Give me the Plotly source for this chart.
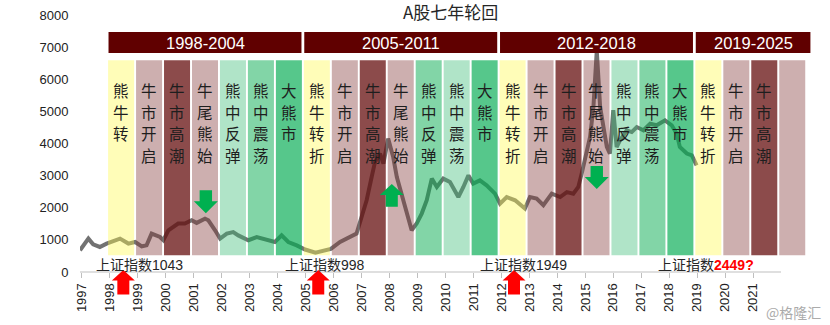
import plotly.graph_objects as go

# ---------------- data ----------------
line_years = [1996.93, 1997.23, 1997.40, 1997.64, 1997.88, 1998.36, 1998.66, 1998.90, 1999.14, 1999.31,
              1999.49, 1999.79, 1999.91, 2000.09, 2000.44, 2000.68, 2000.92, 2001.10, 2001.40, 2001.52,
              2001.76, 2001.94, 2002.18, 2002.41, 2002.59, 2002.95, 2003.25, 2003.55, 2003.90, 2004.14,
              2004.38, 2004.68, 2004.98, 2005.35, 2005.63, 2005.90, 2006.23, 2006.59, 2006.82, 2007.00,
              2007.18, 2007.36, 2007.48, 2007.66, 2007.78, 2007.95, 2008.13, 2008.26, 2008.43, 2008.55,
              2008.79, 2008.97, 2009.15, 2009.33, 2009.51, 2009.69, 2009.92, 2010.16, 2010.46, 2010.64,
              2010.82, 2010.99, 2011.23, 2011.47, 2011.77, 2011.95, 2012.19, 2012.49, 2012.84, 2013.02,
              2013.26, 2013.50, 2013.80, 2014.10, 2014.34, 2014.57, 2014.75, 2014.87, 2015.05, 2015.17,
              2015.29, 2015.41, 2015.53, 2015.65, 2015.77, 2015.88, 2016.00, 2016.12, 2016.24, 2016.48,
              2016.66, 2016.84, 2017.08, 2017.32, 2017.55, 2017.85, 2018.09, 2018.27, 2018.38, 2018.63,
              2018.81, 2018.98]
line_values = [676, 1040, 860, 780, 885, 1040, 885, 935, 800, 830,
               1195, 1090, 990, 1300, 1510, 1510, 1610, 1530, 1660, 1610,
               1300, 1040, 1195, 1245, 1140, 990, 1090, 1010, 935, 1140,
               935, 830, 700, 600, 660, 720, 935, 1090, 1195, 1715,
               2235, 2960, 3430, 3690, 3380, 4155, 3580, 2960, 2440, 2025,
               1300, 1510, 1820, 2235, 2910, 2650, 2910, 2805, 2335, 2650,
               3010, 2755, 2855, 2700, 2440, 2130, 2335, 2235, 1975, 2335,
               2285, 2080, 2440, 2335, 2490, 2440, 2650, 3065, 3690, 4205,
               5140, 6900, 5140, 4515, 3895, 3690, 5040, 3895, 4100, 4415,
               4360, 4515, 4415, 4620, 4570, 4725, 4570, 4310, 3895, 3690,
               3635, 3325]

phase_labels = ["熊牛转", "牛市开启", "牛市高潮", "牛尾熊始", "熊中反弹", "熊中震荡", "大熊市",
                "熊牛转折", "牛市开启", "牛市高潮", "牛尾熊始", "熊中反弹", "熊中震荡", "大熊市",
                "熊牛转折", "牛市开启", "牛市高潮", "牛尾熊始", "熊中反弹", "熊中震荡", "大熊市",
                "熊牛转折", "牛市开启", "牛市高潮", ""]
phase_kinds = ["yellow", "pink", "dark", "pink", "light", "mid", "deep",
               "yellow", "pink", "dark", "pink", "mid", "light", "deep",
               "yellow", "pink", "dark", "pink", "light", "mid", "deep",
               "yellow", "pink", "dark", "pink"]

cycle_labels = ["1998-2004", "2005-2011", "2012-2018", "2019-2025"]
cycle_sizes = [7, 7, 7, 4]

tick_years = list(range(1997, 2022))
tick_labels = [str(y) for y in tick_years]

note_prefix = "上证指数"
note_numbers = ["1043", "998", "1949", "2449?"]
note_years = [1999.04, 2005.69, 2012.79, 2019.33]
note_highlight = [False, False, False, True]

up_red_years = [1998.48, 2005.45, 2012.45]
green_arrow_years = [2001.43, 2008.08, 2015.41]
green_arrow_values = [2545, 2741, 3302]
green_arrow_dirs = ["down", "up", "down"]

# ---------------- style ----------------
FONT = "Liberation Sans, Arial, Noto Sans CJK SC"
CJK = "Noto Sans CJK SC, Liberation Sans"
COL_START = 1997.9
COL_BOTTOM, COL_TOP = 520, 6600
HEAD_BOTTOM, HEAD_TOP = 6822, 7477
CHAR_TOP, CHAR_STEP = 5670, 676   # vertical text: first char centre, step per char

targets = {
    "yellow": ((255, 253, 184), 0.40),
    "pink": ((205, 175, 175), 0.40),
    "dark": ((140, 75, 75), 0.75),
    "light": ((176, 228, 200), 0.40),
    "mid": ((130, 213, 167), 0.50),
    "deep": ((86, 199, 139), 0.68),
}


def overlay_color(kind):
    (r, g, b), a = targets[kind]
    base = [max(0, min(255, round((c - (1 - a) * 255) / a))) for c in (r, g, b)]
    return f"rgba({base[0]},{base[1]},{base[2]},{a})"


fig = go.Figure()
fig.add_trace(go.Scatter(
    x=line_years, y=line_values, mode="lines",
    line=dict(color="#727272", width=4, shape="linear"),
    hoverinfo="skip", showlegend=False))

shapes = []
annotations = []

# phase columns
for i, (lab, kind) in enumerate(zip(phase_labels, phase_kinds)):
    x0 = COL_START + i + 0.035
    x1 = COL_START + i + 1 - 0.035
    shapes.append(dict(type="rect", xref="x", yref="y", x0=x0, x1=x1,
                       y0=COL_BOTTOM, y1=COL_TOP, fillcolor=overlay_color(kind),
                       line=dict(width=0), layer="above"))
    for j, ch in enumerate(lab):
        annotations.append(dict(x=(x0 + x1) / 2, y=CHAR_TOP - j * CHAR_STEP,
                                xref="x", yref="y", text=ch, showarrow=False,
                                xanchor="center", yanchor="middle", borderpad=0,
                                font=dict(family=CJK, size=15.5, color="#1e1e1e")))

# cycle headers
first = 0
for k, (lab, n) in enumerate(zip(cycle_labels, cycle_sizes)):
    x0 = COL_START + first + 0.05
    x1 = COL_START + first + n - 0.05 + (0.2 if k == len(cycle_labels) - 1 else 0)
    shapes.append(dict(type="rect", xref="x", yref="y", x0=x0, x1=x1,
                       y0=HEAD_BOTTOM, y1=HEAD_TOP, fillcolor="#600000",
                       line=dict(width=0), layer="above"))
    annotations.append(dict(x=(x0 + x1) / 2, y=(HEAD_BOTTOM + HEAD_TOP) / 2,
                            xref="x", yref="y", text=lab, showarrow=False,
                            xanchor="center", yanchor="middle",
                            font=dict(family=FONT, size=16.5, color="white")))
    first += n

# x axis line (ends at 2022)
shapes.append(dict(type="line", xref="x", yref="paper", x0=1996.93, x1=2022,
                   y0=0, y1=0, line=dict(color="#bfbfbf", width=1.2), layer="above"))

# red up arrows below the axis
red_path = "M 0,2 L 11.5,-8.5 L 6,-8.5 L 6,-22.5 L -6,-22.5 L -6,-8.5 L -11.5,-8.5 Z"
for yr in up_red_years:
    shapes.append(dict(type="path", xref="x", yref="paper", xsizemode="pixel",
                       ysizemode="pixel", xanchor=yr, yanchor=0, path=red_path,
                       fillcolor="#ff0000", line=dict(width=0), layer="above"))

down_path = "M -6.2,0 L 6.2,0 L 6.2,-11 L 12,-11 L 0,-23 L -12,-11 L -6.2,-11 Z"
up_path = "M 0,0 L 12,-11 L 6,-11 L 6,-22.7 L -6,-22.7 L -6,-11 L -12,-11 Z"
for yr, val, d in zip(green_arrow_years, green_arrow_values, green_arrow_dirs):
    shapes.append(dict(type="path", xref="x", yref="y", xsizemode="pixel",
                       ysizemode="pixel", xanchor=yr, yanchor=val,
                       path=down_path if d == "down" else up_path,
                       fillcolor="#00b050", line=dict(width=0), layer="above"))

# index notes
for num, yr, hl in zip(note_numbers, note_years, note_highlight):
    num_txt = f"<span style='color:#ff0000'><b>{num}</b></span>" if hl else num
    annotations.append(dict(x=yr, y=0, xref="x", yref="y", yshift=-3,
                            text=note_prefix + num_txt, showarrow=False,
                            xanchor="center", yanchor="bottom",
                            font=dict(family=FONT, size=14, color="#262626")))

# watermark
annotations.append(dict(x=1.0, y=-0.149, xref="paper", yref="paper",
                        text="@格隆汇", showarrow=False, xanchor="right",
                        yanchor="middle",
                        font=dict(family=CJK, size=14, color="#ababab")))

fig.update_layout(
    width=830, height=325,
    margin=dict(l=80, r=7, t=5, b=53),
    paper_bgcolor="white", plot_bgcolor="white",
    showlegend=False,
    title=dict(text="A股七年轮回", xref="container", yref="container",
               x=0.543, y=0.961, xanchor="center", yanchor="middle",
               font=dict(family=CJK, size=17, color="#262626")),
    shapes=shapes, annotations=annotations,
    xaxis=dict(range=[1996.93, 2023.5], tickmode="array", tickvals=tick_years,
               ticktext=tick_labels, tickangle=-90, ticks="outside", ticklen=5,
               tickcolor="#bfbfbf", showgrid=False, zeroline=False, showline=False,
               tickfont=dict(family=FONT, size=13, color="#222222"), fixedrange=True),
    yaxis=dict(range=[0, 8318], tickmode="array", tickvals=list(range(0, 8001, 1000)),
               ticks="outside", ticklen=8, tickcolor="rgba(0,0,0,0)",
               showgrid=False, zeroline=False, showline=False,
               tickfont=dict(family=FONT, size=13, color="#222222"), fixedrange=True),
)

fig.write_html("out.html")
